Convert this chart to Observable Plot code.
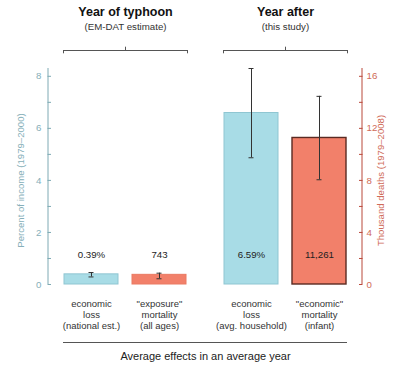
<!DOCTYPE html>
<html><head><meta charset="utf-8">
<script src="https://cdn.jsdelivr.net/npm/d3@7"></script>
<script src="https://cdn.jsdelivr.net/npm/@observablehq/plot@0.6"></script>
<style>body{margin:0;background:#fff}</style>
</head><body><div id="chart"></div>
<script>
const groups = ["Year of typhoon", "Year after"];
const subtitles = ["(EM-DAT estimate)", "(this study)"];
const kinds = ["loss", "mortality"];
const lossPct = [0.39, 6.59];
const lossLow = [0.29, 4.87];
const lossHigh = [0.46, 8.30];
const deaths = [743, 11261];
const deathsLow = [440, 8050];
const deathsHigh = [870, 14460];
const categoryLabels = [
  ["economic\nloss\n(national est.)", "\"exposure\"\nmortality\n(all ages)"],
  ["economic\nloss\n(avg. household)", "\"economic\"\nmortality\n(infant)"]
];
const leftTicks = [0, 1, 2, 3, 4, 5, 6, 7, 8];
const leftLabels = [0, 2, 4, 6, 8];
const rightTicks = [0, 2, 4, 6, 8, 10, 12, 14, 16];
const rightLabels = [0, 4, 8, 12, 16];
const leftTitle = "Percent of income (1979\u20132000)";
const rightTitle = "Thousand deaths (1979\u20132008)";
const bottomTitle = "Average effects in an average year";

const yMax = 8.3;
const blue = "#a8dce6", blueStroke = "#8fc6d2";
const orange = "#f2806a", orangeStroke = "#ea7a62", darkStroke = "#5a2a22";
const leftCol = "#7eaab4", leftText = "#86afb9";
const rightCol = "#b9483a", rightText = "#cf6b58";
const ink = "#222";

const bars = [];
groups.forEach((g, i) => {
  bars.push({group: g, kind: "loss", y: lossPct[i], lo: lossLow[i], hi: lossHigh[i],
    label: d3.format(".2f")(lossPct[i]) + "%", cat: categoryLabels[i][0],
    fill: blue, stroke: blueStroke, sw: 1});
  bars.push({group: g, kind: "mortality", y: deaths[i] / 2000, lo: deathsLow[i] / 2000, hi: deathsHigh[i] / 2000,
    label: d3.format(",")(deaths[i]), cat: categoryLabels[i][1],
    fill: orange, stroke: i === 1 ? darkStroke : orangeStroke, sw: i === 1 ? 1.4 : 1});
});

const chart = Plot.plot({
  width: 410, height: 373,
  marginLeft: 63, marginRight: 63, marginTop: 68, marginBottom: 89,
  style: {fontFamily: "'Liberation Sans', Arial, sans-serif", background: "#fff"},
  fx: {domain: groups, paddingInner: 0.225, paddingOuter: 0, axis: null, label: null},
  x: {domain: kinds, paddingInner: 0.2, paddingOuter: 0, axis: null, label: null},
  y: {domain: [0, yMax], axis: null, label: null},
  color: {type: "identity"},
  marks: [
    // titles and brackets
    Plot.text(groups, {fx: d => d, text: d => d, frameAnchor: "top", lineAnchor: "middle", dy: -57, fontSize: 12.5, fontWeight: "bold", fill: "#111"}),
    Plot.text(subtitles, {fx: (d, i) => groups[i], text: d => d, frameAnchor: "top", lineAnchor: "middle", dy: -41.5, fontSize: 9.7, fill: "#333"}),
    Plot.ruleY(groups, {fx: d => d, y: () => yMax, dy: -18, stroke: "#555"}),
    Plot.ruleX(groups, {fx: d => d, x: null, insetTop: -18, insetBottom: 230.7, dx: -62, stroke: "#555"}),
    Plot.ruleX(groups, {fx: d => d, x: null, insetTop: -18, insetBottom: 230.7, dx: 62, stroke: "#555"}),
    Plot.ruleX(groups, {fx: d => d, x: null, insetTop: -21.3, insetBottom: 234, stroke: "#555"}),
    // bars
    Plot.barY(bars, {fx: "group", x: "kind", y: "y", fill: "fill", stroke: "stroke", strokeWidth: "sw"}),
    Plot.ruleX(bars, {fx: "group", x: "kind", y1: "lo", y2: "hi", stroke: "#333", strokeWidth: 1}),
    Plot.tickY(bars, {fx: "group", x: "kind", y: "lo", insetLeft: 24.5, insetRight: 24.5, stroke: "#333"}),
    Plot.tickY(bars, {fx: "group", x: "kind", y: "hi", insetLeft: 24.5, insetRight: 24.5, stroke: "#333"}),
    Plot.text(bars, {fx: "group", x: "kind", text: "label", frameAnchor: "bottom", lineAnchor: "middle", dy: -30, fontSize: 9.7, fill: ink}),
    Plot.text(bars, {fx: "group", x: "kind", text: "cat", frameAnchor: "bottom", lineAnchor: "top", dy: 14, fontSize: 9.5, lineHeight: 1.19, fill: "#333"}),
    // left axis
    Plot.ruleX(["L"], {x: null, dx: -77.5, facetAnchor: "left", stroke: leftCol}),
    Plot.axisY({anchor: "left", ticks: leftTicks, tickSize: 3.5, tickFormat: () => "", dx: -12, label: null, stroke: leftCol}),
    Plot.axisY({anchor: "left", ticks: leftLabels, tickSize: 0, tickPadding: 6.5, dx: -15.5, label: null, fill: leftText, fontSize: 9.7}),
    Plot.text([leftTitle], {frameAnchor: "left", textAnchor: "middle", lineAnchor: "middle", rotate: -90, dx: -43, dy: 4, facetAnchor: "left", fill: leftText, fontSize: 9.6}),
    // right axis
    Plot.ruleX(["R"], {x: null, dx: 76.5, facetAnchor: "right", stroke: rightCol}),
    Plot.axisY({anchor: "right", ticks: rightTicks.map(t => t / 2), tickSize: 3.5, tickFormat: () => "", dx: 11, label: null, stroke: rightCol}),
    Plot.axisY({anchor: "right", ticks: rightLabels.map(t => t / 2), tickFormat: d => d * 2, tickSize: 0, tickPadding: 4.5, dx: 14.5, label: null, fill: rightText, fontSize: 9.7}),
    Plot.text([rightTitle], {frameAnchor: "right", textAnchor: "middle", lineAnchor: "middle", rotate: -90, dx: 33, dy: 4, facetAnchor: "right", fill: rightText, fontSize: 9.6}),
    // bottom
    Plot.ruleY([0], {dy: 58, insetRight: -160, facetAnchor: "left", stroke: "#555"}),
    Plot.text([bottomTitle], {frameAnchor: "bottom", lineAnchor: "middle", dy: 72, dx: 80, facetAnchor: "left", fontSize: 11, fill: ink})
  ]
});
document.getElementById("chart").appendChild(chart);
</script>
</body></html>
